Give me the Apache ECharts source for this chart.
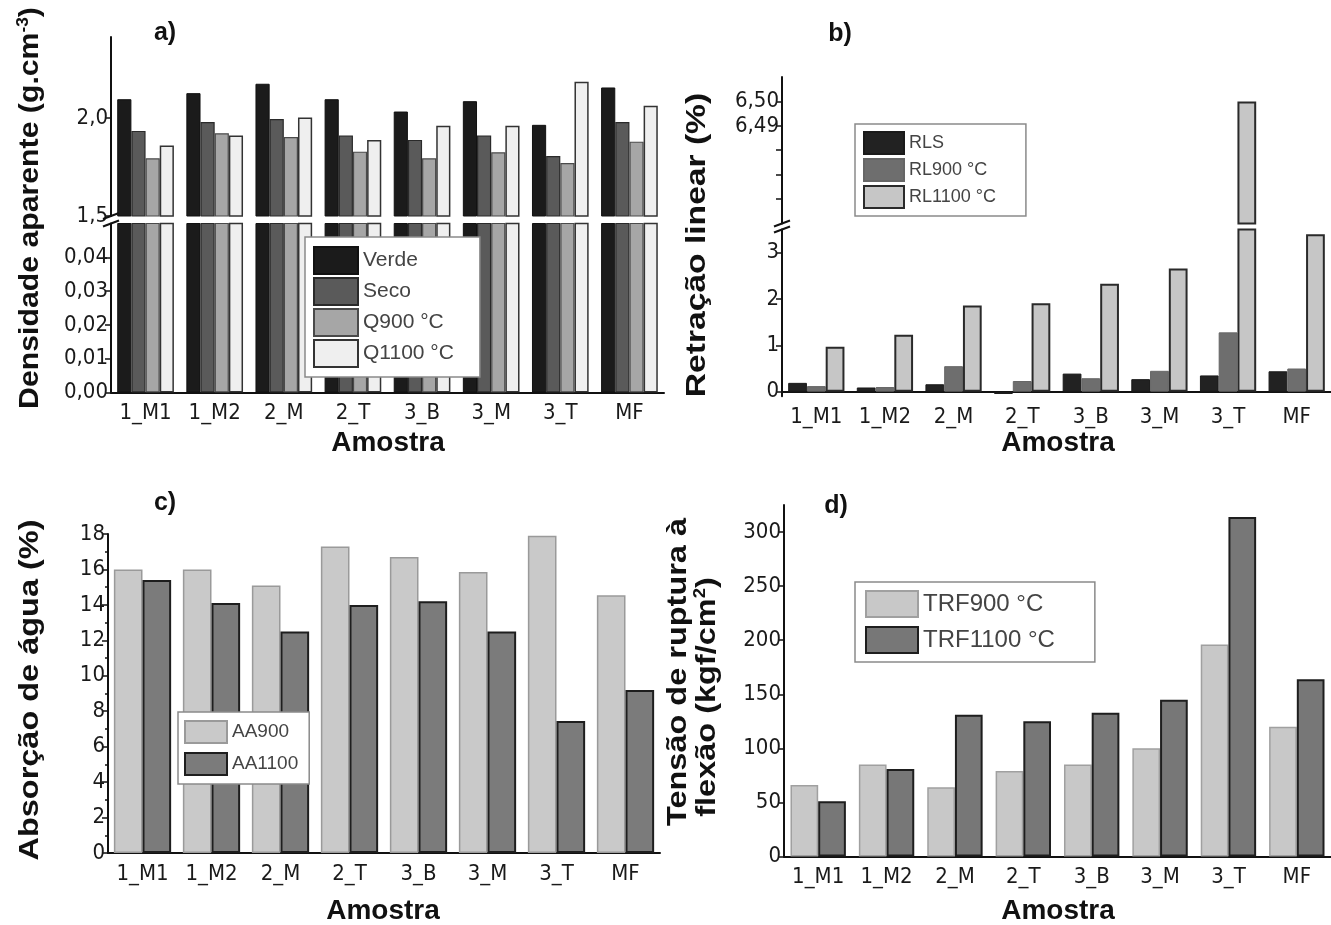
<!DOCTYPE html>
<html><head><meta charset="utf-8">
<script src="https://cdn.jsdelivr.net/npm/echarts@6/dist/echarts.min.js"></script>
<style>html,body{margin:0;padding:0;background:#fff}#c{width:1331px;height:925px}</style>
</head><body><div id="c"></div>
<script>
const categories = ['1_M1','1_M2','2_M','2_T','3_B','3_M','3_T','MF'];
// a) Densidade aparente
const verde = [2.097,2.128,2.176,2.097,2.034,2.087,1.966,2.157];
const seco  = [1.935,1.980,1.996,1.911,1.889,1.911,1.807,1.980];
const q900  = [1.795,1.923,1.904,1.829,1.795,1.826,1.771,1.880];
const q1100 = [1.860,1.911,2.003,1.889,1.961,1.961,2.186,2.063];
const aUpperTicks = [1.5, 2.0];
const aLowerTicks = [0, 0.01, 0.02, 0.03, 0.04];
// b) Retração linear
const rls    = [0.19,0.09,0.16,-0.05,0.39,0.27,0.35,0.44];
const rl900  = [0.12,0.10,0.55,0.23,0.29,0.45,1.28,0.50];
const rl1100 = [0.97,1.23,1.86,1.91,2.33,2.66,6.50,3.40];
const bUpperTicks = [6.46,6.47,6.48,6.49,6.50];
const bUpperLabels = [6.49,6.50];
const bLowerTicks = [0,1,2,3];
// c) Absorção de água
const aa900  = [16.0,16.0,15.1,17.3,16.7,15.85,17.9,14.55];
const aa1100 = [15.4,14.1,12.5,14.0,14.2,12.5,7.45,9.2];
// d) Tensão de ruptura à flexão
const trf900  = [66,85,64,79,85,100,196,120];
const trf1100 = [51,81,131,125,133,145,314,164];
const dTicks = [0,50,100,150,200,250,300];

const FF = '"Liberation Sans", Arial, Helvetica, sans-serif';
const FN = '"Liberation Sans Narrow", "Arial Narrow", "DejaVu Sans Condensed", "Liberation Sans", sans-serif';
const INK = '#111';
const comma = d => v => v.toFixed(d).replace('.', ',');
const TL = {fontSize: 22, color: '#1a1a1a', fontFamily: FN};

function vAxis(gi, min, max, ticks, labels, fmt, extra) {
  return Object.assign({
    type: 'value', gridIndex: gi, min: min, max: max,
    splitLine: {show: false},
    axisLine: {show: true, onZero: false, lineStyle: {color: INK, width: 2}},
    axisTick: {show: true, length: 6, lineStyle: {color: INK, width: 1.5}, customValues: ticks},
    axisLabel: Object.assign({customValues: labels, formatter: fmt, margin: 3}, TL)
  }, extra || {});
}
function cAxis(gi, show) {
  return {
    type: 'category', gridIndex: gi, data: categories, show: show,
    axisLine: {onZero: true, lineStyle: {color: INK, width: 2}},
    axisTick: {length: 6, lineStyle: {color: INK, width: 1.5}},
    axisLabel: Object.assign({margin: 10, interval: 0}, TL)
  };
}
function bar(name, data, ai, color, border, bw, gap) {
  return {
    type: 'bar', name: name, data: data, xAxisIndex: ai, yAxisIndex: ai,
    barGap: '0%', barCategoryGap: gap, clip: true,
    itemStyle: {color: color, borderColor: border, borderWidth: bw},
    emphasis: {disabled: true}, animation: false
  };
}
function legend(names, left, top, pad, iw, ih, gap, fs) {
  return {
    data: names, orient: 'vertical', left: left, top: top, padding: pad,
    itemWidth: iw, itemHeight: ih, itemGap: gap, icon: 'rect',
    backgroundColor: '#fff', borderColor: '#8a8a8a', borderWidth: 1.5,
    textStyle: {fontSize: fs, color: '#444', fontFamily: FF}, selectedMode: false
  };
}
function txt(x, y, text, size, rot, sx, extra) {
  return {
    type: 'text', x: x, y: y, rotation: rot || 0, scaleX: sx || 1, z: 10,
    style: Object.assign({text: text, fontSize: size, fontWeight: 'bold', fontFamily: FF,
      fill: '#111', textAlign: 'center', textVerticalAlign: 'middle'}, extra || {})
  };
}
function brk(cx, cy) {
  return {type: 'line', z: 10, shape: {x1: cx - 8, y1: cy + 3, x2: cx + 8, y2: cy - 3},
    style: {stroke: INK, lineWidth: 2}};
}

const sup = {fontSize: 16, fontWeight: 'bold', fontFamily: FF, fill: '#111', verticalAlign: 'top', padding: [0, 0, 10, 0]};
const main = {fontSize: 28, fontWeight: 'bold', fontFamily: FF, fill: '#111'};

const option = {
  backgroundColor: '#fff',
  animation: false,
  grid: [
    {left: 111, top: 37, width: 553, height: 179},
    {left: 111, top: 223.5, width: 553, height: 169},
    {left: 782, top: 77, width: 552, height: 146.5},
    {left: 782, top: 229.5, width: 552, height: 166.8},
    {left: 108, top: 534, width: 552, height: 319},
    {left: 784, top: 505, width: 551, height: 351.5}
  ],
  xAxis: [cAxis(0, false), cAxis(1, true), cAxis(2, false), cAxis(3, true), cAxis(4, true), cAxis(5, true)],
  yAxis: [
    vAxis(0, 1.5, 2.415, aUpperTicks, aUpperTicks, comma(1)),
    vAxis(1, 0, 0.05, aLowerTicks, aLowerTicks, comma(2)),
    vAxis(2, 6.45, 6.51, bUpperTicks, bUpperLabels, comma(2)),
    vAxis(3, -0.1, 3.5, bLowerTicks, bLowerTicks, v => String(v)),
    vAxis(4, 0, 18, null, null, v => String(v), {interval: 2,
      axisTick: {show: true, length: 6, lineStyle: {color: INK, width: 1.5}},
      axisLabel: Object.assign({margin: 3}, TL),
      minorTick: {show: true, splitNumber: 2, length: 3, lineStyle: {color: INK, width: 1.5}}}),
    vAxis(5, 0, 325, dTicks, dTicks, v => String(v))
  ],
  legend: [
    legend(['Verde', 'Seco', 'Q900 °C', 'Q1100 °C'], 305, 237, [9, 26, 9, 8], 44, 27, 2, 21),
    legend(['RLS', 'RL900 °C', 'RL1100 °C'], 855, 124, [7, 30, 7, 8], 40, 22, 3, 18),
    legend(['AA900', 'AA1100'], 178, 712, [8, 11, 8, 6], 42, 22, 8, 19),
    legend(['TRF900 °C', 'TRF1100 °C'], 855, 582, [8, 40, 8, 10], 52, 26, 8, 24)
  ],
  series: [
    bar('Verde', verde, 0, '#1b1b1b', '#111', 1, '18%'),
    bar('Seco', seco, 0, '#5a5a5a', '#2a2a2a', 1.2, '18%'),
    bar('Q900 °C', q900, 0, '#a6a6a6', '#4a4a4a', 1.2, '18%'),
    bar('Q1100 °C', q1100, 0, '#efefef', '#333', 1.5, '18%'),
    bar('Verde', verde, 1, '#1b1b1b', '#111', 1, '18%'),
    bar('Seco', seco, 1, '#5a5a5a', '#2a2a2a', 1.2, '18%'),
    bar('Q900 °C', q900, 1, '#a6a6a6', '#4a4a4a', 1.2, '18%'),
    bar('Q1100 °C', q1100, 1, '#efefef', '#333', 1.5, '18%'),
    bar('RLS', rls, 2, '#222', '#1a1a1a', 1, '18%'),
    bar('RL900 °C', rl900, 2, '#6e6e6e', '#666', 1, '18%'),
    bar('RL1100 °C', rl1100, 2, '#c6c6c6', '#2a2a2a', 2, '18%'),
    bar('RLS', rls, 3, '#222', '#1a1a1a', 1, '18%'),
    bar('RL900 °C', rl900, 3, '#6e6e6e', '#666', 1, '18%'),
    bar('RL1100 °C', rl1100, 3, '#c6c6c6', '#2a2a2a', 2, '18%'),
    bar('AA900', aa900, 4, '#c9c9c9', '#9a9a9a', 1.5, '17%'),
    bar('AA1100', aa1100, 4, '#7b7b7b', '#1e1e1e', 2, '17%'),
    bar('TRF900 °C', trf900, 5, '#c8c8c8', '#a0a0a0', 1.5, '19%'),
    bar('TRF1100 °C', trf1100, 5, '#777', '#1e1e1e', 2, '19%')
  ],
  graphic: [
    txt(165, 33, 'a)', 25), txt(840, 34, 'b)', 25), txt(165, 503, 'c)', 25), txt(836, 506, 'd)', 25),
    txt(388, 443, 'Amostra', 28), txt(1058, 443, 'Amostra', 28),
    txt(383, 911, 'Amostra', 28), txt(1058, 911, 'Amostra', 28),
    {type: 'text', x: 30, y: 208, rotation: Math.PI / 2, scaleX: 1.08, z: 10,
      style: {text: '{m|Densidade aparente (g.cm}{s|-3}{m|)}', rich: {m: main, s: sup},
        textAlign: 'center', textVerticalAlign: 'middle'}},
    txt(697, 245, 'Retração linear (%)', 28, Math.PI / 2, 1.2),
    txt(30, 690, 'Absorção de água (%)', 28, Math.PI / 2, 1.16),
    txt(678, 672, 'Tensão de ruptura à', 28, Math.PI / 2, 1.16),
    {type: 'text', x: 707, y: 697, rotation: Math.PI / 2, scaleX: 1.16, z: 10,
      style: {text: '{m|flexão (kgf/cm}{s|2}{m|)}', rich: {m: main, s: sup},
        textAlign: 'center', textVerticalAlign: 'middle'}},
    brk(111, 216), brk(111, 223.5), brk(782, 223.5), brk(782, 229.5)
  ]
};
const chart = echarts.init(document.getElementById('c'), null, {renderer: 'canvas'});
chart.setOption(option);
</script></body></html>
